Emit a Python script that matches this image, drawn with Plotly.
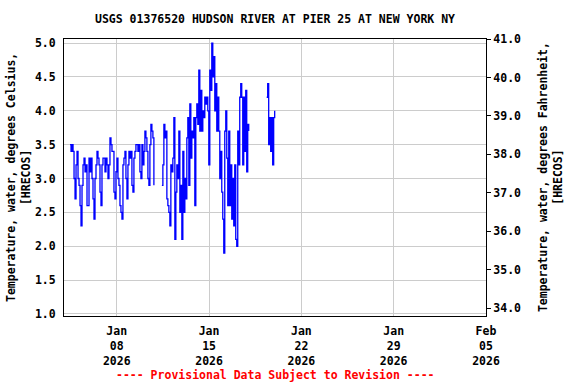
import pandas as pd
import plotly.graph_objects as go

# Water temperature, degrees Celsius (None = gap in record)
temp_c = [
    3.5, 3.4, 3.5, 3.4, 3.0, 2.7, 3.2, 3.4, 3.0, 2.9,
    2.6, 2.3, 2.9, 3.2, 3.3, 3.1, 3.2, 2.6, 2.6, 3.3,
    3.1, 3.3, 3.0, 2.7, 2.4, 3.0, 3.2, 3.4, 3.3, 3.2,
    2.8, 2.6, 3.2, 3.3, 3.3, 3.1, 3.3, 3.2, 3.0, 3.2,
    3.6, 3.5, 3.4, 3.4, 2.8, 2.7, 3.1, 3.3, 3.0, 2.9,
    2.6, 2.5, 2.4, 3.2, 3.3, 3.4, 3.0, 2.7, 3.2, 3.4,
    3.3, 3.4, 2.9, 2.8, 3.3, 3.4, 3.5, 3.5, 3.4, 3.5,
    3.1, 3.0, 3.5, 3.2, 3.4, 3.7, 3.6, 3.4, 3.0, 2.9,
    3.5, 3.8, 3.7, 3.6, 2.9, None, None, None, None, None,
    None, None, 2.9, 3.2, 3.8, 3.6, 3.7, 2.7, 2.6, 2.5,
    2.3, 3.2, 3.1, 3.3, 3.9, 2.1, 2.8, 3.2, 3.0, 3.7,
    2.5, 2.9, 2.1, 3.4, 2.5, 3.0, 2.7, 3.6, 3.9, 2.9,
    4.1, 3.3, 3.7, 3.6, 3.9, 2.6, 3.9, 4.1, 3.8, 4.6,
    3.7, 4.3, 3.7, 4.0, 3.9, 4.2, 4.1, 4.2, 4.0, 3.2,
    4.6, 4.3, 5.0, 4.5, 4.8, 4.0, 4.4, 3.7, 4.2, 3.7,
    3.0, 3.4, 2.8, 2.4, 1.9, 3.7, 4.0, 3.3, 2.6, 3.7,
    2.6, 3.2, 2.4, 3.0, 2.3, 3.2, 2.1, 2.0, 3.7, 3.2,
    4.2, 4.4, 4.2, 3.2, 4.2, 3.4, 4.3, 3.1, 3.8, 3.7,
    None, None, None, None, None, None, None, None, None, None,
    None, None, None, None, None, None, None, 4.2, 4.4, 3.5,
    3.9, 3.4, 3.9, 3.2, 3.9, 4.0,
]
record_start = "2026-01-04 11:00"
record_step = "109min"

times = pd.date_range(start=record_start, periods=len(temp_c), freq=record_step)
temp_f = [None if v is None else v * 9 / 5 + 32 for v in temp_c]

x_tick_dates = ["2026-01-08", "2026-01-15", "2026-01-22", "2026-01-29", "2026-02-05"]
x_tick_text = ["Jan<br>08<br>2026", "Jan<br>15<br>2026", "Jan<br>22<br>2026",
               "Jan<br>29<br>2026", "Feb<br>05<br>2026"]
c_ticks = [1.0, 1.5, 2.0, 2.5, 3.0, 3.5, 4.0, 4.5, 5.0]
f_ticks = [34, 35, 36, 37, 38, 39, 40, 41]

title_text = "USGS 01376520 HUDSON RIVER AT PIER 25 AT NEW YORK NY"
left_title = "Temperature, water, degrees Celsius,<br>[HRECOS]"
right_title = "Temperature, water, degrees Fahrenheit,<br>[HRECOS]"
footer_text = "---- Provisional Data Subject to Revision ----"

FONT = "DejaVu Sans Mono"
FS = 11.5

fig = go.Figure()
fig.add_trace(go.Scatter(
    x=times, y=temp_c, mode="lines", connectgaps=False,
    line=dict(color="#0000FF", width=1.3, shape="hv"),
    showlegend=False,
))
fig.add_trace(go.Scatter(
    x=times, y=temp_f, yaxis="y2", mode="lines", opacity=0,
    line=dict(width=0), hoverinfo="skip", showlegend=False,
))

fig.update_layout(
    width=576, height=384,
    margin=dict(l=64, r=90, t=39, b=68),
    paper_bgcolor="white", plot_bgcolor="white",
    font=dict(family=FONT, size=FS, color="black", weight="bold"),
    showlegend=False,
    xaxis=dict(
        type="date", range=["2026-01-04", "2026-02-05"],
        tickvals=x_tick_dates, ticktext=x_tick_text,
        showgrid=True, gridcolor="#cccccc", gridwidth=1,
        showline=True, linecolor="black", linewidth=1, mirror=True,
        ticks="", ticklabelstandoff=4,
        tickfont=dict(family=FONT, size=FS, color="black", weight="bold"),
        zeroline=False,
    ),
    yaxis=dict(
        range=[0.97, 5.06], tickvals=c_ticks, tickformat=".1f",
        showgrid=True, gridcolor="#cccccc", gridwidth=1,
        showline=True, linecolor="black", linewidth=1, mirror=True,
        ticks="", ticklabelstandoff=5,
        tickfont=dict(family=FONT, size=FS, color="black", weight="bold"),
        zeroline=False,
    ),
    yaxis2=dict(
        overlaying="y", side="right", range=[33.8, 41.0],
        tickvals=f_ticks, tickformat=".1f", showgrid=False,
        ticks="outside", ticklen=4, tickcolor="black",
        tickfont=dict(family=FONT, size=FS, color="black", weight="bold"),
        zeroline=False, showline=False,
    ),
    annotations=[
        dict(text=title_text, xref="paper", yref="paper",
             x=0.5, y=1 + 20 / 277, xanchor="center", yanchor="middle",
             showarrow=False, font=dict(family=FONT, size=FS, color="black", weight="bold")),
        dict(text=left_title, xref="paper", yref="paper",
             x=(18.5 - 64) / 422, y=0.5, xanchor="center", yanchor="middle",
             textangle=-90, showarrow=False,
             font=dict(family=FONT, size=FS, color="black", weight="bold")),
        dict(text=right_title, xref="paper", yref="paper",
             x=(550.6 - 64) / 422, y=0.5, xanchor="center", yanchor="middle",
             textangle=-90, showarrow=False,
             font=dict(family=FONT, size=FS, color="black", weight="bold")),
        dict(text=footer_text, xref="paper", yref="paper",
             x=0.5, y=-(375 - 316) / 277, xanchor="center", yanchor="middle",
             showarrow=False, font=dict(family=FONT, size=FS, color="#FF0000", weight="bold")),
    ],
)

fig.write_html("out.html", config={"displayModeBar": False},
               post_script="document.body.style.margin='0';")
